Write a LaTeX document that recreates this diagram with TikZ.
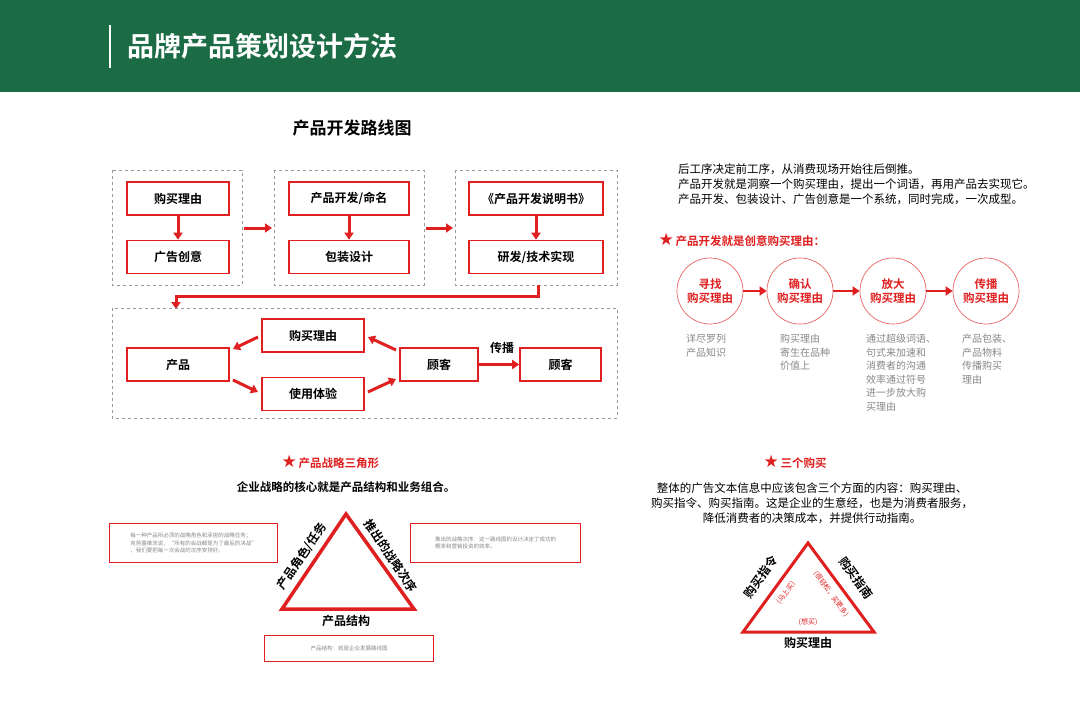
\documentclass[tikz,border=0pt]{standalone}
\usepackage{fontspec}
\setmainfont{Noto Sans CJK SC}[BoldFont={Noto Sans CJK SC Bold}]
\usetikzlibrary{arrows.meta}
\definecolor{hdr}{HTML}{1B6B45}
\definecolor{rd}{HTML}{E02020}
\definecolor{gr}{HTML}{888888}
\tikzset{
  box/.style={draw=rd,line width=1.6pt,fill=white,minimum height=33pt,font=\bfseries\fontsize{12}{14}\selectfont,inner sep=0pt},
  grp/.style={draw=gray!80,dashed,line width=0.9pt},
  arr/.style={-{Triangle[length=7pt,width=9pt]},line width=3pt,draw=rd},
  circ/.style={circle,draw=rd!70,line width=0.7pt,minimum size=66pt,align=center,text=rd,font=\bfseries\fontsize{11.5}{14}\selectfont,inner sep=0pt},
  desc/.style={anchor=north west,align=left,text=gr,font=\fontsize{10}{13.5}\selectfont,inner sep=0pt},
  note/.style={draw=rd,line width=1.2pt,align=left,text=gr,font=\fontsize{5.5}{7.5}\selectfont,inner sep=4pt,anchor=north west},
  tri/.style={draw=rd,line width=3.5pt,line join=miter},
  lbl/.style={font=\bfseries\fontsize{12}{14}\selectfont},
  small/.style={text=rd,font=\fontsize{7}{9}\selectfont},
  head/.style={anchor=west,text=rd,font=\bfseries\fontsize{11.5}{14}\selectfont},
}
\newcommand{\rstar}{{\fontspec{DejaVu Sans}\fontsize{17}{17}\selectfont ★}\,}
\begin{document}
\begin{tikzpicture}[x=1pt,y=-1pt]
\useasboundingbox (0,0) rectangle (1080,720);
\fill[white] (0,0) rectangle (1080,720);
\fill[hdr] (0,0) rectangle (1080,92);
\draw[white,line width=2pt] (110,25) -- (110,68);
\node[anchor=west,text=white,font=\bfseries\fontsize{27}{30}\selectfont] (title) at (124,46) {品牌产品策划设计方法};
\node[font=\bfseries\fontsize{17}{20}\selectfont] (t1) at (352,128) {产品开发路线图};
% groups
\draw[grp] (112,170) rectangle (242,285);
\draw[grp] (274,170) rectangle (424,285);
\draw[grp] (455,170) rectangle (617,285);
\node[box,minimum width=102pt] (a1) at (178,198.5) {购买理由};
\node[box,minimum width=102pt] (a2) at (178,257) {广告创意};
\node[box,minimum width=120pt] (b1) at (349,198.5) {产品开发/命名};
\node[box,minimum width=120pt] (b2) at (349,257) {包装设计};
\node[box,minimum width=134pt] (c1) at (536,198.5) {《产品开发说明书》};
\node[box,minimum width=134pt] (c2) at (536,257) {研发/技术实现};
\draw[arr] (a1) -- (a2);
\draw[arr] (b1) -- (b2);
\draw[arr] (c1) -- (c2);
\coordinate (g1r) at (244,228); \coordinate (g2l) at (272,228);
\coordinate (g2r) at (426,228); \coordinate (g3l) at (453,228);
\draw[arr] (g1r) -- (g2l);
\draw[arr] (g2r) -- (g3l);
\coordinate (e1) at (538,285); \coordinate (e2) at (176,309);
\draw[arr] (e1) -- (538,296) -- (176,296) -- (e2);
% second group
\draw[grp] (112,308) rectangle (617,418);
\node[box,minimum width=102pt] (p) at (178,364.5) {产品};
\node[box,minimum width=102pt] (r) at (313,335.5) {购买理由};
\node[box,minimum width=102pt] (u) at (313,394) {使用体验};
\node[box,minimum width=78pt] (k1) at (439,364.5) {顾客};
\node[box,minimum width=81pt] (k2) at (560.5,364.5) {顾客};
\node[lbl] (cb) at (502,348) {传播};
\coordinate (r1) at (258,337); \coordinate (p1) at (233,349);
\coordinate (p2) at (233,380); \coordinate (u1) at (258,392);
\coordinate (u2) at (368,392); \coordinate (k1a) at (396,379);
\coordinate (k1b) at (396,350); \coordinate (r2) at (368,337);
\draw[arr] (r1) -- (p1);
\draw[arr] (p2) -- (u1);
\draw[arr] (u2) -- (k1a);
\draw[arr] (k1b) -- (r2);
\draw[arr] (k1) -- (k2);
% right text
\node[anchor=north west,align=left,font=\fontsize{11.5}{15}\selectfont,inner sep=0pt] (rt) at (678,164) {后工序决定前工序，从消费现场开始往后倒推。\\产品开发就是洞察一个购买理由，提出一个词语，再用产品去实现它。\\产品开发、包装设计、广告创意是一个系统，同时完成，一次成型。};
\node[head] (h2) at (655,240) {\rstar 产品开发就是创意购买理由：};
\node[circ] (o1) at (710,291) {寻找\\购买理由};
\node[circ] (o2) at (800,291) {确认\\购买理由};
\node[circ] (o3) at (893,291) {放大\\购买理由};
\node[circ] (o4) at (986,291) {传播\\购买理由};
\draw[arr,line width=2.5pt] (o1) -- (o2);
\draw[arr,line width=2.5pt] (o2) -- (o3);
\draw[arr,line width=2.5pt] (o3) -- (o4);
\node[desc] (d1) at (686,334) {详尽罗列\\产品知识};
\node[desc] (d2) at (780,334) {购买理由\\寄生在品种\\价值上};
\node[desc] (d3) at (866,334) {通过超级词语、\\句式来加速和\\消费者的沟通\\效率通过符号\\进一步放大购\\买理由};
\node[desc] (d4) at (962,334) {产品包装、\\产品物料\\传播购买\\理由};
% triangle 1
\node[head] (h3) at (278,462) {\rstar 产品战略三角形};
\node[font=\bfseries\fontsize{11.5}{14}\selectfont] (h4) at (346,487) {企业战略的核心就是产品结构和业务组合。};
\coordinate (T1) at (346,514); \coordinate (T2) at (282,609); \coordinate (T3) at (414,609);
\draw[tri] (T1) -- (T2) -- (T3) -- cycle;
\node[lbl,rotate=56] (l1) at (302,556) {产品角色/任务};
\node[lbl,rotate=-56] (l2) at (391,556) {推出的战略次序};
\node[lbl] (l3) at (346,621) {产品结构};
\node[note,minimum width=168pt,minimum height=39pt] (n1) at (109,523) {每一种产品所必须的战略角色和承担的战略任务；\\克劳塞维茨说，“所有的会战都是为了最后的决战”\\，我们要把每一次会战的次序安排好。};
\node[note,minimum width=170pt,minimum height=39pt] (n2) at (410,523) {推出的战略次序：这一路线图的设计决定了成功的\\概率和营销投资的效率。};
\node[note,minimum width=169pt,minimum height=26pt,align=center,anchor=north west] (n3) at (264,635) {产品结构：就是企业发展路线图};
% triangle 2
\node[head] (h5) at (760,462) {\rstar 三个购买};
\node[align=center,font=\fontsize{11.5}{15}\selectfont] (h6) at (812,503) {整体的广告文本信息中应该包含三个方面的内容：购买理由、\\购买指令、购买指南。这是企业的生意经，也是为消费者服务，\\降低消费者的决策成本，并提供行动指南。};
\coordinate (S1) at (808,543); \coordinate (S2) at (743,632); \coordinate (S3) at (874,632);
\draw[tri,line width=3pt] (S1) -- (S2) -- (S3) -- cycle;
\node[lbl,rotate=54] (m1) at (761,577) {购买指令};
\node[lbl,rotate=-54] (m2) at (856,578) {购买指南};
\node[lbl] (m3) at (808,643) {购买理由};
\node[small,rotate=54] (s1) at (786,593) {(马上买)};
\node[small,rotate=-54] (s2) at (831,594) {(很轻松，买更多)};
\node[small] (s3) at (808,622) {(想买)};
\end{tikzpicture}
\end{document}
